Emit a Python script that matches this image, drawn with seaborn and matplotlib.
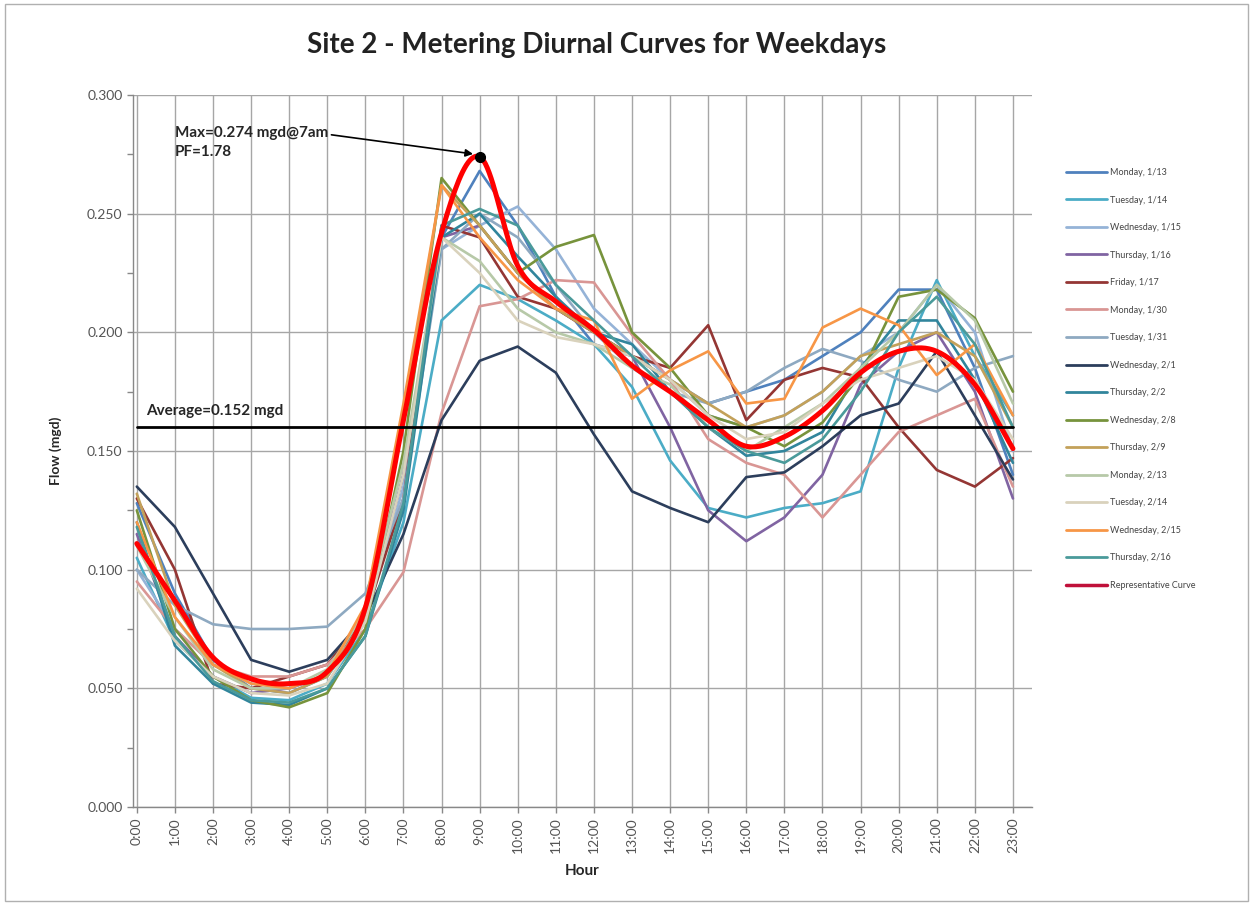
import numpy as np
import pandas as pd
import matplotlib
matplotlib.use('Agg')
import matplotlib.pyplot as plt
from matplotlib.patches import Rectangle
import seaborn as sns

# timmar och etiketter
hours = list(range(24))
hour_labels = [f'{h}:00' for h in hours]

# dagar (serienamn) och färger
days = ['Monday, 1/13', 'Tuesday, 1/14', 'Wednesday, 1/15', 'Thursday, 1/16',
        'Friday, 1/17', 'Monday, 1/30', 'Tuesday, 1/31', 'Wednesday, 2/1',
        'Thursday, 2/2', 'Wednesday, 2/8', 'Thursday, 2/9', 'Monday, 2/13',
        'Tuesday, 2/14', 'Wednesday, 2/15', 'Thursday, 2/16']
day_colors = ['#4F81BD', '#4BACC6', '#95B3D7', '#8064A2', '#943634',
              '#D99694', '#8EA9C1', '#2C3E5C', '#31859C', '#77933C',
              '#C3A15A', '#B7C9A8', '#D9D2BC', '#F79646', '#4A9A9A']

# flöde per timme (mgd)
mon_0113 = [0.128, 0.090, 0.062, 0.050, 0.048, 0.055, 0.078, 0.140, 0.240, 0.268, 0.245, 0.215,
            0.195, 0.190, 0.180, 0.170, 0.175, 0.180, 0.190, 0.200, 0.218, 0.218, 0.185, 0.140]
tue_0114 = [0.105, 0.070, 0.055, 0.046, 0.045, 0.052, 0.075, 0.120, 0.205, 0.220, 0.214, 0.205,
            0.195, 0.177, 0.146, 0.126, 0.122, 0.126, 0.128, 0.133, 0.185, 0.222, 0.190, 0.165]
wed_0115 = [0.100, 0.075, 0.060, 0.052, 0.050, 0.055, 0.078, 0.135, 0.235, 0.245, 0.253, 0.235,
            0.210, 0.195, 0.180, 0.165, 0.160, 0.165, 0.175, 0.190, 0.200, 0.220, 0.200, 0.150]
thu_0116 = [0.115, 0.072, 0.055, 0.048, 0.050, 0.056, 0.080, 0.140, 0.240, 0.245, 0.225, 0.210,
            0.200, 0.190, 0.160, 0.125, 0.112, 0.122, 0.140, 0.178, 0.192, 0.200, 0.175, 0.130]
fri_0117 = [0.130, 0.100, 0.052, 0.050, 0.055, 0.060, 0.080, 0.130, 0.245, 0.240, 0.215, 0.210,
            0.200, 0.190, 0.185, 0.203, 0.163, 0.180, 0.185, 0.181, 0.160, 0.142, 0.135, 0.147]
mon_0130 = [0.095, 0.075, 0.060, 0.055, 0.055, 0.060, 0.075, 0.099, 0.166, 0.211, 0.214, 0.222,
            0.221, 0.199, 0.180, 0.155, 0.145, 0.140, 0.122, 0.140, 0.158, 0.165, 0.172, 0.135]
tue_0131 = [0.100, 0.085, 0.077, 0.075, 0.075, 0.076, 0.090, 0.130, 0.235, 0.250, 0.240, 0.220,
            0.200, 0.185, 0.175, 0.170, 0.175, 0.185, 0.193, 0.188, 0.180, 0.175, 0.185, 0.190]
wed_0201 = [0.135, 0.118, 0.090, 0.062, 0.057, 0.062, 0.080, 0.115, 0.163, 0.188, 0.194, 0.183,
            0.157, 0.133, 0.126, 0.120, 0.139, 0.141, 0.152, 0.165, 0.170, 0.192, 0.165, 0.138]
thu_0202 = [0.120, 0.068, 0.052, 0.044, 0.043, 0.050, 0.072, 0.125, 0.240, 0.250, 0.232, 0.215,
            0.200, 0.195, 0.175, 0.160, 0.148, 0.150, 0.158, 0.185, 0.205, 0.205, 0.180, 0.145]
wed_0208 = [0.125, 0.075, 0.055, 0.045, 0.042, 0.048, 0.075, 0.150, 0.265, 0.245, 0.225, 0.236,
            0.241, 0.200, 0.185, 0.165, 0.160, 0.152, 0.162, 0.182, 0.215, 0.218, 0.206, 0.175]
thu_0209 = [0.132, 0.085, 0.060, 0.050, 0.048, 0.055, 0.080, 0.165, 0.262, 0.245, 0.225, 0.210,
            0.200, 0.190, 0.180, 0.170, 0.160, 0.165, 0.175, 0.190, 0.195, 0.200, 0.190, 0.160]
mon_0213 = [0.110, 0.080, 0.058, 0.050, 0.050, 0.058, 0.082, 0.145, 0.240, 0.230, 0.210, 0.200,
            0.195, 0.185, 0.178, 0.160, 0.150, 0.160, 0.170, 0.185, 0.200, 0.220, 0.205, 0.170]
tue_0214 = [0.092, 0.070, 0.055, 0.048, 0.047, 0.052, 0.078, 0.140, 0.240, 0.225, 0.205, 0.198,
            0.195, 0.190, 0.180, 0.165, 0.155, 0.158, 0.170, 0.180, 0.185, 0.190, 0.180, 0.155]
wed_0215 = [0.120, 0.080, 0.060, 0.052, 0.050, 0.056, 0.085, 0.170, 0.262, 0.240, 0.222, 0.210,
            0.205, 0.172, 0.184, 0.192, 0.170, 0.172, 0.202, 0.210, 0.203, 0.182, 0.195, 0.165]
thu_0216 = [0.118, 0.072, 0.053, 0.045, 0.044, 0.050, 0.072, 0.128, 0.245, 0.252, 0.245, 0.220,
            0.205, 0.190, 0.175, 0.160, 0.150, 0.145, 0.155, 0.175, 0.200, 0.215, 0.195, 0.160]

representative = [0.111, 0.087, 0.063, 0.054, 0.052, 0.057, 0.084, 0.163, 0.242, 0.274, 0.228, 0.213,
                  0.201, 0.186, 0.175, 0.163, 0.152, 0.156, 0.167, 0.183, 0.192, 0.192, 0.178, 0.151]

average_level = 0.160
max_hour = 9
max_flow = 0.274

all_days = [mon_0113, tue_0114, wed_0115, thu_0116, fri_0117, mon_0130, tue_0131, wed_0201,
            thu_0202, wed_0208, thu_0209, mon_0213, tue_0214, wed_0215, thu_0216]

# lång tabell för seaborn
rows = []
for name, vals in zip(days, all_days):
    for h, v in zip(hours, vals):
        rows.append({'hour': h, 'flow': v, 'day': name})
df = pd.DataFrame(rows)


# utjämnad kurva (som Excels "smoothed line")
def smooth(x, y, n=20):
    x = np.asarray(x, float)
    y = np.asarray(y, float)
    px = np.concatenate([[2 * x[0] - x[1]], x, [2 * x[-1] - x[-2]]])
    py = np.concatenate([[2 * y[0] - y[1]], y, [2 * y[-1] - y[-2]]])
    xs, ys = [], []
    t = np.linspace(0, 1, n, endpoint=False)
    for i in range(1, len(px) - 2):
        for p, out in ((px, xs), (py, ys)):
            p0, p1, p2, p3 = p[i - 1], p[i], p[i + 1], p[i + 2]
            out.extend(0.5 * (2 * p1 + (-p0 + p2) * t + (2 * p0 - 5 * p1 + 4 * p2 - p3) * t ** 2
                              + (-p0 + 3 * p1 - 3 * p2 + p3) * t ** 3))
    xs.append(x[-1])
    ys.append(y[-1])
    return np.array(xs), np.array(ys)


sns.set_theme(style='white')
plt.rcParams['font.family'] = ['Lato', 'DejaVu Sans']

fig = plt.figure(figsize=(12.53, 9.06), dpi=100)
ax = fig.add_axes([133 / 1253, 99 / 906, (1032 - 133) / 1253, (807 - 95) / 906])

sns.lineplot(data=df, x='hour', y='flow', hue='day', hue_order=days,
             palette=dict(zip(days, day_colors)), linewidth=1.9, ax=ax, legend=False)

rx, ry = smooth(hours, representative)
ax.plot(rx, ry, color='#FF0000', linewidth=3.6, zorder=5)

ax.plot([hours[0], hours[-1]], [average_level, average_level], color='black', linewidth=2, zorder=6)
ax.plot([max_hour], [max_flow], 'o', color='black', markersize=7, zorder=7)

ax.set_xlim(-0.1, 23.5)
ax.set_ylim(0, 0.3)
ax.set_xticks(hours)
ax.set_xticklabels(hour_labels, rotation=90, fontsize=10, color='#555555')
ax.set_yticks(np.arange(0, 0.301, 0.05))
ax.set_yticks(np.arange(0, 0.301, 0.025), minor=True)
ax.set_yticklabels([f'{v:.3f}' for v in np.arange(0, 0.301, 0.05)], fontsize=10, color='#555555')
ax.tick_params(axis='both', which='both', direction='out', length=4, color='#888888', width=1,
               left=True, bottom=True)
ax.grid(True, which='major', color='#A6A6A6', linewidth=1)
ax.set_axisbelow(True)
for s in ['top', 'right']:
    ax.spines[s].set_visible(False)
for s in ['left', 'bottom']:
    ax.spines[s].set_color('#888888')
    ax.spines[s].set_linewidth(1)

ax.set_xlabel('Hour', fontsize=11, fontweight='bold', labelpad=8)
ax.set_ylabel('Flow (mgd)', fontsize=10, fontweight='bold', labelpad=18)

ax.text(0.25, average_level + 0.004, 'Average=0.152 mgd', fontsize=11, fontweight='bold',
        va='bottom', ha='left')
ax.annotate('Max=0.274 mgd@7am\nPF=1.78', xy=(max_hour - 0.1, max_flow + 0.001),
            xytext=(1.0, 0.280), fontsize=11, fontweight='bold', va='center', ha='left',
            linespacing=1.4,
            arrowprops=dict(arrowstyle='-|>', color='black', lw=1.2, shrinkA=0, shrinkB=2,
                            relpos=(1.0, 0.75)))

fig.text(597 / 1253, 1 - 45 / 906, 'Site 2 - Metering Diurnal Curves for Weekdays',
         fontsize=20, fontweight='bold', ha='center', va='center', color='#222222')

handles = [plt.Line2D([], [], color=c, linewidth=2) for c in day_colors]
handles.append(plt.Line2D([], [], color='#C0103A', linewidth=2.5))
fig.legend(handles, days + ['Representative Curve'], loc='upper left',
           bbox_to_anchor=(1058 / 1253, 1 - 160 / 906), frameon=False, fontsize=6.5,
           handlelength=4.5, labelspacing=2.05, handletextpad=0.4, labelcolor='#444444')

fig.patches.append(Rectangle((0.004, 0.006), 0.992, 0.99, transform=fig.transFigure,
                             fill=False, edgecolor='#B0B0B0', linewidth=1))

fig.savefig('out.png', dpi=100)
